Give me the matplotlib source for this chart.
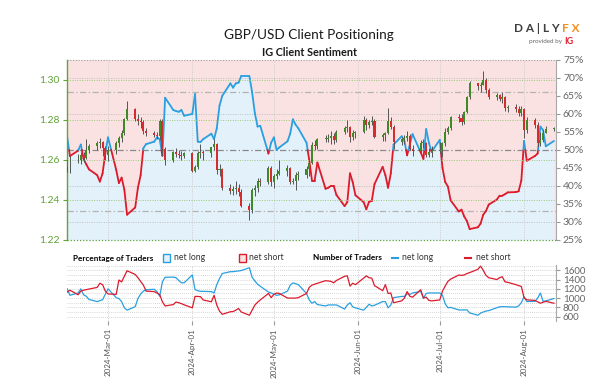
import matplotlib
matplotlib.use('Agg')
import matplotlib.pyplot as plt
import matplotlib.dates as mdates
from matplotlib.collections import LineCollection
from matplotlib.patches import Rectangle
from matplotlib.lines import Line2D
from matplotlib.ticker import FuncFormatter
import numpy as np
import pandas as pd

plt.rcParams['font.family'] = ['Lato', 'DejaVu Sans']

# ---- data (one value per trading day, 2024-02-15 .. 2024-08-12) ----
dates = pd.bdate_range('2024-02-15', '2024-08-12')
first_open = 1.2565

close = [
    1.2598, 1.2600,
    1.2598, 1.2625, 1.2610, 1.2650, 1.2670,
    1.2685, 1.2688, 1.2660, 1.2625, 1.2652,
    1.2686, 1.2708, 1.2737, 1.2805, 1.2857,
    1.2805, 1.2795, 1.2790, 1.2745, 1.2735,
    1.2725, 1.2720, 1.2795, 1.2655, 1.2600,
    1.2642, 1.2630, 1.2625, 1.2620, 1.2635,
    1.2545, 1.2565, 1.2637, 1.2640, 1.2637,
    1.2663, 1.2680, 1.2550, 1.2555, 1.2460,
    1.2445, 1.2455, 1.2460, 1.2440, 1.2370,
    1.2350, 1.2450, 1.2460, 1.2495, 1.2490,
    1.2560, 1.2490, 1.2520, 1.2530, 1.2545,
    1.2560, 1.2490, 1.2495, 1.2525, 1.2525,
    1.2555, 1.2585, 1.2675, 1.2670, 1.2705,
    1.2705, 1.2710, 1.2720, 1.2700, 1.2740,
    1.2760, 1.2765, 1.2715, 1.2735, 1.2740,
    1.2800, 1.2775, 1.2790, 1.2795, 1.2715,
    1.2725, 1.2735, 1.2795, 1.2765, 1.2690,
    1.2705, 1.2710, 1.2720, 1.2655, 1.2645,
    1.2685, 1.2685, 1.2625, 1.2640, 1.2645,
    1.2650, 1.2685, 1.2740, 1.2760, 1.2815,
    1.2808, 1.2790, 1.2840, 1.2915, 1.2985,
    1.2970, 1.2975, 1.3000, 1.2950, 1.2915,
    1.2925, 1.2905, 1.2915, 1.2860, 1.2865,
    1.2855, 1.2835, 1.2855, 1.2750, 1.2800,
    1.2775, 1.2685, 1.2700, 1.2735, 1.2755,
    1.2760,
]
high = [
    1.2602, 1.2620,
    1.2630, 1.2640, 1.2640, 1.2705, 1.2680,
    1.2695, 1.2710, 1.2695, 1.2670, 1.2670,
    1.2695, 1.2720, 1.2750, 1.2810, 1.2894,
    1.2860, 1.2830, 1.2815, 1.2800, 1.2760,
    1.2745, 1.2740, 1.2803, 1.2803, 1.2665,
    1.2645, 1.2660, 1.2650, 1.2645, 1.2640,
    1.2640, 1.2575, 1.2645, 1.2680, 1.2650,
    1.2665, 1.2705, 1.2685, 1.2580, 1.2560,
    1.2480, 1.2470, 1.2495, 1.2480, 1.2455,
    1.2385, 1.2460, 1.2475, 1.2510, 1.2510,
    1.2570, 1.2570, 1.2530, 1.2555, 1.2600,
    1.2575, 1.2565, 1.2510, 1.2540, 1.2545,
    1.2570, 1.2590, 1.2690, 1.2700, 1.2710,
    1.2725, 1.2730, 1.2745, 1.2735, 1.2750,
    1.2770, 1.2800, 1.2770, 1.2750, 1.2745,
    1.2820, 1.2810, 1.2800, 1.2820, 1.2805,
    1.2735, 1.2740, 1.2860, 1.2815, 1.2775,
    1.2715, 1.2725, 1.2745, 1.2730, 1.2675,
    1.2700, 1.2705, 1.2690, 1.2660, 1.2670,
    1.2690, 1.2690, 1.2760, 1.2770, 1.2820,
    1.2830, 1.2830, 1.2845, 1.2920, 1.2995,
    1.2985, 1.2990, 1.3044, 1.3010, 1.2960,
    1.2935, 1.2930, 1.2940, 1.2920, 1.2875,
    1.2880, 1.2870, 1.2870, 1.2860, 1.2815,
    1.2810, 1.2790, 1.2740, 1.2750, 1.2770,
    1.2765,
]
low = [
    1.2540, 1.2535,
    1.2585, 1.2580, 1.2590, 1.2605, 1.2635,
    1.2650, 1.2660, 1.2620, 1.2600, 1.2595,
    1.2630, 1.2665, 1.2690, 1.2725, 1.2800,
    1.2795, 1.2775, 1.2760, 1.2730, 1.2720,
    1.2715, 1.2705, 1.2700, 1.2620, 1.2575,
    1.2590, 1.2615, 1.2610, 1.2600, 1.2610,
    1.2540, 1.2540, 1.2555, 1.2610, 1.2600,
    1.2615, 1.2650, 1.2530, 1.2520, 1.2450,
    1.2430, 1.2425, 1.2430, 1.2420, 1.2365,
    1.2300, 1.2335, 1.2420, 1.2440, 1.2470,
    1.2480, 1.2470, 1.2460, 1.2505, 1.2525,
    1.2520, 1.2480, 1.2480, 1.2450, 1.2500,
    1.2510, 1.2520, 1.2580, 1.2650, 1.2655,
    1.2690, 1.2690, 1.2680, 1.2680, 1.2690,
    1.2730, 1.2740, 1.2690, 1.2700, 1.2710,
    1.2735, 1.2750, 1.2760, 1.2775, 1.2710,
    1.2695, 1.2695, 1.2730, 1.2755, 1.2655,
    1.2675, 1.2680, 1.2695, 1.2650, 1.2620,
    1.2640, 1.2660, 1.2615, 1.2615, 1.2615,
    1.2635, 1.2615, 1.2670, 1.2730, 1.2750,
    1.2790, 1.2775, 1.2780, 1.2835, 1.2905,
    1.2950, 1.2940, 1.2975, 1.2935, 1.2905,
    1.2900, 1.2895, 1.2885, 1.2845, 1.2840,
    1.2840, 1.2820, 1.2820, 1.2710, 1.2735,
    1.2760, 1.2665, 1.2670, 1.2690, 1.2735,
    1.2745,
]
# % of clients net long
pct_long = [
    53.5, 48.3,
    49.8, 51.5, 47.5, 46.0, 44.6,
    43.0, 41.2, 43.5, 49.0, 53.5,
    44.5, 40.8, 42.3, 39.0, 32.0,
    34.0, 39.5, 43.0, 50.5, 51.6,
    52.3, 53.5, 53.0, 48.4, 64.5,
    61.1, 60.8, 60.6, 61.1, 59.5,
    60.0, 65.5, 52.3, 52.2, 53.0,
    54.5, 53.0, 56.0, 62.3, 65.0,
    68.5, 67.3, 68.5, 68.7, 70.5,
    70.5, 66.0, 60.2, 56.5, 56.7,
    49.0, 52.0, 53.5, 50.0, 50.7,
    52.4, 54.5, 58.5, 57.0, 56.0,
    52.0, 47.2, 41.5, 41.5, 46.5,
    39.2, 39.5, 40.0, 40.0, 37.5,
    34.4, 35.5, 43.5, 41.0, 37.4,
    35.5, 33.5, 35.6, 35.8, 40.5,
    45.3, 43.0, 39.5, 43.5, 51.5,
    53.8, 52.5, 48.5, 51.5, 54.4,
    49.3, 47.5, 55.8, 52.0, 49.5,
    52.8, 45.0, 41.1, 39.8, 36.0,
    32.9, 33.4, 31.5, 30.2, 28.0,
    28.5, 29.5, 32.0, 33.0, 34.8,
    36.2, 37.3, 37.3, 37.7, 38.2,
    38.3, 38.5, 41.5, 52.5, 47.0,
    48.3, 49.0, 56.5, 55.5, 51.0,
    52.5,
]
n_long = [
    1200, 1060,
    1110, 1200, 1072, 1040, 970,
    925, 945, 965, 1080, 1200,
    1010, 990, 925, 790, 740,
    815, 990, 1090, 1150, 1180,
    1190, 1140, 1040, 1350, 1450,
    1453, 1440, 1380, 1330, 1330,
    1500, 1183, 1160, 1146, 1146,
    1140, 1110, 1290, 1420, 1530,
    1570, 1570, 1580, 1585, 1595,
    1655, 1450, 1370, 1300, 1255,
    1130, 1110, 1085, 1060, 1070,
    1150, 1277, 1329, 1310, 1290,
    1100, 960, 890, 925, 860,
    830, 852, 852, 852, 852,
    764, 850, 900, 810, 790,
    740, 800, 867, 830, 845,
    925, 925, 790, 850, 1010,
    1036, 1036, 1090, 1080, 1110,
    1146, 998, 1100, 1110, 1110,
    1110, 1060, 880, 790, 800,
    745, 742, 745, 745, 680,
    630, 675, 700, 720, 730,
    790, 812, 815, 815, 810,
    805, 830, 900, 1030, 925,
    930, 1000, 1110, 930, 940,
    990,
]
n_short = [
    1130, 1170,
    1072, 1150, 1170, 1183, 1195,
    1230, 1320, 1290, 1150, 1090,
    1080, 1390, 1350, 1470, 1590,
    1510, 1440, 1360, 1280, 1150,
    1140, 1110, 1075, 920, 830,
    860, 915, 900, 880, 855,
    790, 1036, 1036, 1030, 960,
    920, 1060, 850, 720, 650,
    705, 710, 740, 775, 700,
    630, 740, 850, 910, 960,
    1100, 1010, 1080, 1110, 1100,
    1000, 1000, 998, 1000, 1010,
    1100, 1230, 1280, 1300, 1320,
    1375, 1370, 1360, 1330, 1380,
    1470, 1480, 1260, 1320, 1290,
    1430, 1480, 1440, 1430, 1270,
    1160, 1290, 1100, 1110, 900,
    940, 1000, 1140, 1040, 1020,
    1180, 1000, 1020, 950, 940,
    960, 1150, 1260, 1360, 1410,
    1497, 1490, 1500, 1530, 1550,
    1620, 1690, 1600, 1490, 1440,
    1400, 1440, 1460, 1351, 1340,
    1290, 1270, 1250, 1010, 962,
    950, 920, 890, 910, 930,
    889,
]
month_ticks = pd.to_datetime(['2024-03-01', '2024-04-01', '2024-05-01',
                              '2024-06-01', '2024-07-01', '2024-08-01'])

# ---- colours ----
BLUE = '#2a9fe0'
RED = '#dc1a2c'
BLUE_FILL = '#e3f1fb'
PINK_FILL = '#fbe2e2'
GREEN_C = '#3f8a26'
RED_C = '#d62b2f'
AX_GREEN = '#62a33a'
GRID_GREEN = '#9cc77a'
GRID_GRAY = '#bdbdbd'
TXT_GRAY = '#666666'

x = mdates.date2num(dates)
close = np.array(close)
high = np.array(high)
low = np.array(low)
opens = np.r_[first_open, close[:-1]]
pct_long = np.array(pct_long)
xlim = (mdates.date2num(pd.Timestamp('2024-02-14 18:00')),
        mdates.date2num(pd.Timestamp('2024-08-12 18:00')))
xm = mdates.date2num(month_ticks)


def split_line(xs, ys, level=50):
    """Break the sentiment line where it crosses 50% so each side gets its colour."""
    segs, cols = [], []
    for i in range(len(xs) - 1):
        x0, y0, x1, y1 = xs[i], ys[i], xs[i + 1], ys[i + 1]
        if (y0 - level) * (y1 - level) < 0:
            xc = x0 + (level - y0) / (y1 - y0) * (x1 - x0)
            segs += [[(x0, y0), (xc, level)], [(xc, level), (x1, y1)]]
            cols += [BLUE if y0 > level else RED, BLUE if y1 > level else RED]
        else:
            segs.append([(x0, y0), (x1, y1)])
            cols.append(BLUE if (y0 + y1) / 2 >= level else RED)
    return segs, cols


fig = plt.figure(figsize=(6.05, 3.82), dpi=100)
fig.patch.set_facecolor('white')

# ---- main panel: sentiment (bottom layer) + candles (twin on top) ----
ax = fig.add_axes([0.110, 0.372, 0.809, 0.471])
ax.set_facecolor(PINK_FILL)
ax.fill_between(x, 25, pct_long, color=BLUE_FILL, lw=0, zorder=1)
ax.set_xlim(*xlim)
ax.set_ylim(25, 75)

for v in [30, 40, 60, 70]:
    ax.axhline(v, color=GRID_GRAY, ls=(0, (1, 1.5)), lw=0.7, zorder=2)
ax.axhline(75, color='#a0a0a0', ls=(0, (1, 1.5)), lw=0.8, zorder=2, clip_on=False)
for v, c in [(33, '#b3b3b3'), (66, '#b3b3b3'), (50, '#8a8a8a')]:
    ax.axhline(v, color=c, ls=(0, (5, 2, 1, 2)), lw=0.9, zorder=2)
for v in xm:
    ax.axvline(v, color='#cccccc', ls=(0, (1, 1.5)), lw=0.7, zorder=2)

segs, cols = split_line(x, pct_long)
lc = LineCollection(segs, colors=cols, linewidths=1.3, capstyle='round',
                    joinstyle='round', zorder=3)
ax.add_collection(lc)

axp = ax.twinx()  # twinx moves the host ticks to the left, so set sides after it
ax.yaxis.tick_right()
ax.set_yticks(np.arange(25, 76, 5))
ax.yaxis.set_major_formatter(FuncFormatter(lambda v, p: f'{v:.0f}%'))
ax.tick_params(axis='y', colors='#999999', labelcolor=TXT_GRAY, labelsize=7.5,
               length=3, width=0.8, pad=2)
ax.set_xticks([])
for s in ['top', 'bottom', 'left']:
    ax.spines[s].set_visible(False)
ax.spines['right'].set_color('#a8a8a8')

axp.set_ylim(1.22, 1.31)
axp.set_xlim(*xlim)
for v in [1.24, 1.26, 1.28, 1.30]:
    axp.axhline(v, color=GRID_GREEN, ls=(0, (1, 1.5)), lw=0.7, zorder=1)
axp.axhline(1.22, color=AX_GREEN, ls=(0, (1, 1.5)), lw=0.9, zorder=1, clip_on=False)

up = close >= opens
body_col = np.where(up, GREEN_C, RED_C)
axp.vlines(x, low, high, color='#555555', lw=0.7, zorder=4)
axp.bar(x, np.maximum(np.abs(close - opens), 0.0003), bottom=np.minimum(close, opens),
        width=0.75, color=body_col, edgecolor='none', zorder=5)

axp.yaxis.tick_left()
axp.set_yticks([1.22, 1.24, 1.26, 1.28, 1.30])
axp.yaxis.set_major_formatter(FuncFormatter(lambda v, p: f'{v:.2f}'))
axp.tick_params(axis='y', colors=AX_GREEN, labelcolor=AX_GREEN, labelsize=7.5,
                length=3, width=0.8, pad=2)
axp.set_xticks([])
for s in ['top', 'bottom', 'right']:
    axp.spines[s].set_visible(False)
axp.spines['left'].set_color(AX_GREEN)
axp.spines['left'].set_linewidth(1.0)

# ---- lower panel: number of traders ----
axc = fig.add_axes([0.110, 0.159, 0.809, 0.148])
axc.set_xlim(*xlim)
axc.set_ylim(500, 1720)
for v in range(500, 1701, 100):
    axc.axhline(v, color='#c8c8c8', ls=(0, (1, 1.5)), lw=0.6, zorder=1)
for v in xm:
    axc.axvline(v, color='#cccccc', ls=(0, (1, 1.5)), lw=0.7, zorder=1)
axc.plot(x, n_long, color=BLUE, lw=0.9, zorder=3)
axc.plot(x, n_short, color=RED, lw=0.9, zorder=3)

axc.yaxis.tick_right()
axc.set_yticks(range(600, 1601, 200))
axc.tick_params(axis='y', colors='#999999', labelcolor=TXT_GRAY, labelsize=7,
                length=3, width=0.8, pad=2)
axc.set_xticks(xm)
axc.xaxis.set_major_formatter(mdates.DateFormatter('%Y-%b-%d'))
axc.tick_params(axis='x', colors='#999999', labelcolor='#555555', labelsize=5.8,
                length=3, width=0.8, pad=2, labelrotation=90)
for s in ['top', 'bottom', 'left']:
    axc.spines[s].set_visible(False)
axc.spines['right'].set_color('#a8a8a8')

# ---- legend row ----
ly = 1 - 258 / 382
fs = 6.2
fig.text(73 / 605, ly, 'Percentage of Traders', weight='bold', fontsize=5.9, va='center')
fig.patches.append(Rectangle((163 / 605, ly - 4 / 382), 7 / 605, 8 / 382,
                             transform=fig.transFigure, facecolor=BLUE_FILL,
                             edgecolor=BLUE, lw=1.0))
fig.text(174 / 605, ly, 'net long', fontsize=fs, va='center', color='#333333')
fig.patches.append(Rectangle((239 / 605, ly - 4 / 382), 7 / 605, 8 / 382,
                             transform=fig.transFigure, facecolor=PINK_FILL,
                             edgecolor=RED, lw=1.0))
fig.text(249 / 605, ly, 'net short', fontsize=fs, va='center', color='#333333')
fig.text(313 / 605, ly, 'Number of Traders', weight='bold', fontsize=5.9, va='center')
fig.lines.append(Line2D([392 / 605, 398 / 605], [ly, ly], transform=fig.transFigure,
                        color=BLUE, lw=1.5))
fig.text(402 / 605, ly, 'net long', fontsize=fs, va='center', color='#333333')
fig.lines.append(Line2D([465 / 605, 471 / 605], [ly, ly], transform=fig.transFigure,
                        color=RED, lw=1.5))
fig.text(476 / 605, ly, 'net short', fontsize=fs, va='center', color='#333333')

# ---- titles and logo ----
fig.text(309 / 605, 1 - 35 / 382, 'GBP/USD Client Positioning', ha='center',
         va='center', fontsize=9.8, color='#1a1a1a')
fig.text(309 / 605, 1 - 53 / 382, 'IG Client Sentiment', ha='center',
         va='center', fontsize=7.8, weight='bold', color='#1a1a1a')
fig.text(514 / 605, 1 - 29 / 382, 'D A | L Y', ha='left', va='center', fontsize=8.5,
         weight='bold', color='#3f3f3f')
fig.text(579 / 605, 1 - 29 / 382, 'F X', ha='right', va='center', fontsize=8.5,
         weight='bold', color='#f5901e')
fig.text(562 / 605, 1 - 41 / 382, 'provided by', ha='right', va='center',
         fontsize=4.5, color='#666666')
fig.text(564 / 605, 1 - 41 / 382, 'IG', ha='left', va='center', fontsize=6.5,
         weight='bold', color='#e0202e')

fig.savefig('out.png', dpi=100)
